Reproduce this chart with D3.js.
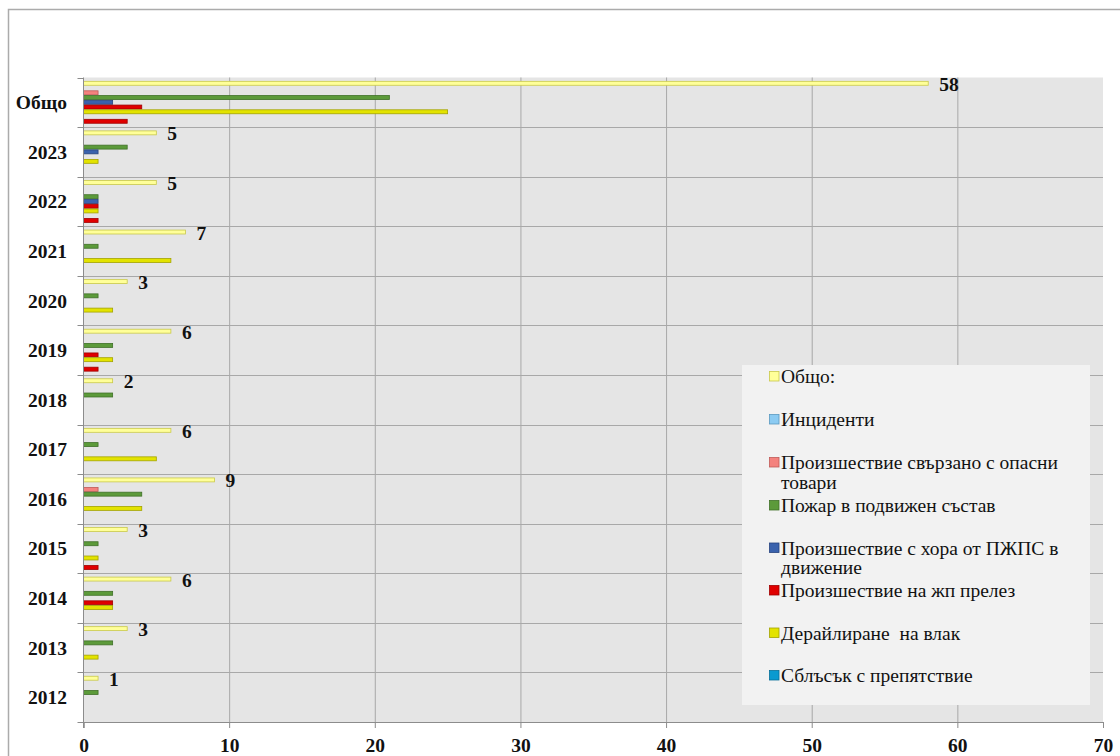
<!DOCTYPE html>
<html>
<head>
<meta charset="utf-8">
<script src="https://cdn.jsdelivr.net/npm/d3@7"></script>
<style>
  html, body { margin: 0; padding: 0; background: #ffffff; }
  svg { display: block; }
</style>
</head>
<body>
<svg id="chart" width="1120" height="756"></svg>
<script>
// ---- Data ----
const categories = ["Общо", "2023", "2022", "2021", "2020", "2019", "2018", "2017", "2016", "2015", "2014", "2013", "2012"];

const seriesNames = [
  "Общо:",
  "Инциденти",
  "Произшествие свързано с опасни товари",
  "Пожар в подвижен състав",
  "Произшествие с хора от ПЖПС в движение",
  "Произшествие на жп прелез",
  "Дерайлиране на влак",
  "Сблъсък с препятствие",
  "Друго произшествие"
];

// values per series, ordered like categories
const totalValues     = [58, 5, 5, 7, 3, 6, 2, 6, 9, 3, 6, 3, 1];
const incidentValues  = [0, 0, 0, 0, 0, 0, 0, 0, 0, 0, 0, 0, 0];
const dangerousValues = [1, 0, 0, 0, 0, 0, 0, 0, 1, 0, 0, 0, 0];
const fireValues      = [21, 3, 1, 1, 1, 2, 2, 1, 4, 1, 2, 2, 1];
const peopleValues    = [2, 1, 1, 0, 0, 0, 0, 0, 0, 0, 0, 0, 0];
const crossingValues  = [4, 0, 1, 0, 0, 1, 0, 0, 0, 0, 2, 0, 0];
const derailValues    = [25, 1, 1, 6, 2, 2, 0, 5, 4, 1, 2, 1, 0];
const collisionValues = [0, 0, 0, 0, 0, 0, 0, 0, 0, 0, 0, 0, 0];
const otherValues     = [3, 0, 1, 0, 0, 1, 0, 0, 0, 1, 0, 0, 0];

const seriesValues = [totalValues, incidentValues, dangerousValues, fireValues, peopleValues,
                      crossingValues, derailValues, collisionValues, otherValues];

const xTicks = [0, 10, 20, 30, 40, 50, 60, 70];

// ---- Styles ----
const fills   = ["#ffff99", "#8ccbf2", "#f4827e", "#5c9a3a", "#3a62ad", "#e00000", "#e3e300", "#0a9ad0", "#e00000"];
const strokes = ["#c9c94a", "#5a9ac0", "#c05a58", "#3f7027", "#27447f", "#a00000", "#a3a300", "#066f98", "#a00000"];
const legendCount = 8;

const svg = d3.select("#chart");
const W = 1120, H = 756;
const serif = "Liberation Serif, Times New Roman, serif";

// outer frame
svg.append("path")
  .attr("d", `M8.5,${H} L8.5,9.5 L${W},9.5`)
  .attr("fill", "none").attr("stroke", "#ababab").attr("stroke-width", 1.5);

const plot = { left: 83.5, right: 1103, top: 77.5, bottom: 722 };

const x = d3.scaleLinear().domain([0, 70]).range([plot.left, plot.right]);
const y0 = d3.scaleBand().domain(categories).range([plot.top, plot.bottom]).padding(0);
const y1 = d3.scaleBand().domain(d3.range(seriesNames.length)).range([0, y0.bandwidth()])
  .paddingOuter(0.72).paddingInner(0);

// plot background
svg.append("rect")
  .attr("x", plot.left).attr("y", plot.top)
  .attr("width", plot.right - plot.left).attr("height", plot.bottom - plot.top)
  .attr("fill", "#e5e5e5");

// vertical gridlines
svg.append("g").selectAll("line").data(xTicks.filter(t => t > 0 && t < 70)).join("line")
  .attr("x1", d => x(d) + 0.5).attr("x2", d => x(d) + 0.5)
  .attr("y1", plot.top).attr("y2", plot.bottom)
  .attr("stroke", "#a8a8a8").attr("stroke-width", 1);

// horizontal gridlines at category boundaries
svg.append("g").selectAll("line").data(categories.slice(1)).join("line")
  .attr("x1", plot.left).attr("x2", plot.right)
  .attr("y1", d => Math.round(y0(d)) + 0.5).attr("y2", d => Math.round(y0(d)) + 0.5)
  .attr("stroke", "#a8a8a8").attr("stroke-width", 1);

// bars
const groups = svg.append("g").selectAll("g").data(categories).join("g")
  .attr("transform", d => `translate(0,${y0(d)})`);

groups.each(function(cat, ci) {
  const g = d3.select(this);
  seriesValues.forEach((vals, si) => {
    const v = vals[ci];
    if (v <= 0) return;
    g.append("rect")
      .attr("x", x(0))
      .attr("y", y1(si) + 0.4)
      .attr("width", x(v) - x(0))
      .attr("height", y1.bandwidth() - 0.8)
      .attr("fill", fills[si])
      .attr("stroke", strokes[si])
      .attr("stroke-width", 0.8);
  });
  // data label for total
  const tv = totalValues[ci];
  g.append("text")
    .attr("x", x(tv) + 11)
    .attr("y", y1(0) + y1.bandwidth() / 2 + 7.5)
    .attr("font-family", serif).attr("font-weight", "bold").attr("font-size", 19.5)
    .attr("fill", "#111")
    .text(tv);
});

// axes
const xAxis = d3.axisBottom(x).tickValues(xTicks).tickSize(6).tickFormat(d3.format("d"));
const gx = svg.append("g").attr("transform", `translate(0,${plot.bottom})`).call(xAxis);
gx.select(".domain").attr("stroke", "#8c8c8c");
gx.selectAll(".tick line").attr("stroke", "#8c8c8c");
gx.selectAll(".tick text")
  .attr("font-family", serif).attr("font-weight", "bold").attr("font-size", 19.5)
  .attr("fill", "#111").attr("y", 16).attr("dy", "0.71em");

// y axis line with boundary ticks
const gy = svg.append("g");
gy.append("line")
  .attr("x1", plot.left).attr("x2", plot.left)
  .attr("y1", plot.top).attr("y2", plot.bottom + 6)
  .attr("stroke", "#8c8c8c");
const boundaries = categories.map(c => y0(c)).concat([plot.bottom]);
gy.selectAll("line.tk").data(boundaries).join("line").attr("class", "tk")
  .attr("x1", plot.left - 6).attr("x2", plot.left)
  .attr("y1", d => Math.round(d) + 0.5).attr("y2", d => Math.round(d) + 0.5)
  .attr("stroke", "#8c8c8c");
gy.selectAll("text").data(categories).join("text")
  .attr("x", 67).attr("y", d => y0(d) + y0.bandwidth() / 2 + 7)
  .attr("text-anchor", "end")
  .attr("font-family", serif).attr("font-weight", "bold").attr("font-size", 19.5)
  .attr("fill", "#111")
  .text(d => d);

// legend
const lg = svg.append("g");
lg.append("rect")
  .attr("x", 742).attr("y", 365).attr("width", 348).attr("height", 340)
  .attr("fill", "#f2f2f2");
const legendY = [376.5, 419.5, 462.5, 505.5, 548, 590.5, 633, 675.5];
const legendLines = [
  ["Общо:"],
  ["Инциденти"],
  ["Произшествие свързано с опасни", "товари"],
  ["Пожар в подвижен състав"],
  ["Произшествие с хора от ПЖПС в", "движение"],
  ["Произшествие на жп прелез"],
  ["Дерайлиране  на влак"],
  ["Сблъсък с препятствие"]
];
for (let i = 0; i < legendCount; i++) {
  const yy = legendY[i];
  lg.append("rect")
    .attr("x", 769.5).attr("y", yy - 5).attr("width", 9.5).attr("height", 9.5)
    .attr("fill", fills[i]).attr("stroke", strokes[i]).attr("stroke-width", 0.8);
  const t = lg.append("text")
    .attr("x", 781).attr("y", yy + 6.5)
    .attr("font-family", serif).attr("font-size", 19.5).attr("fill", "#111")
    .attr("xml:space", "preserve").style("white-space", "pre");
  legendLines[i].forEach((ln, k) => {
    t.append("tspan").attr("x", 781).attr("dy", k === 0 ? 0 : 19.5).text(ln);
  });
}
</script>
</body>
</html>
